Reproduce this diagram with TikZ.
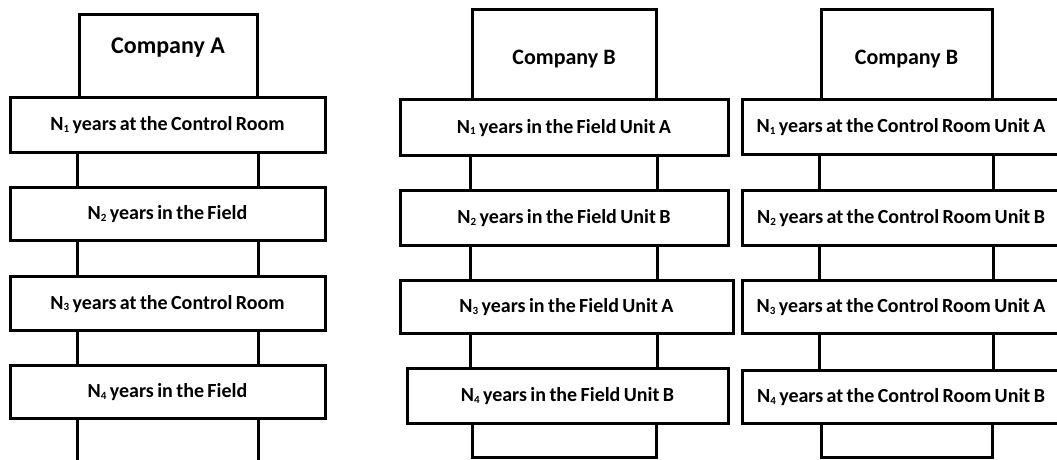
\documentclass[tikz,border=0pt]{standalone}
\usepackage{fontspec}
\setmainfont{Carlito}
\newcommand{\tightwords}{\spaceskip=3.4pt plus 1pt minus 1pt\relax}
\newcommand{\yrsub}[1]{\raisebox{-1.2pt}{\fontsize{11}{12}\selectfont #1}}

\begin{document}
\begin{tikzpicture}[
    x=1pt, y=-1pt,
    head/.style={draw, line width=3pt, inner sep=0pt, font=\bfseries\fontsize{22}{26}\selectfont},
    stage/.style={draw, line width=3pt, inner sep=0pt, text height=12.8pt, text depth=0pt, font=\bfseries\fontsize{20}{24}\selectfont\tightwords},
    tail/.style={draw, line width=3pt, inner sep=0pt},
    rail/.style={line width=3pt}
]
    \useasboundingbox (0,0) rectangle (1057,460);
    \clip (0,0) rectangle (1057,460);
    \fill[white] (0,0) rectangle (1057,460);

    \node[head, font=\bfseries\fontsize{24}{28}\selectfont, minimum width=178pt, text height=39pt, text depth=43pt] (hA) at (168,56) {Company A};
    \node[stage, minimum width=315pt, minimum height=55pt] (a1) at (167.5,124.5) {N\yrsub{1} years at the Control Room};
    \node[stage, minimum width=315pt, minimum height=53pt] (a2) at (167.5,213.5) {N\yrsub{2} years in the Field};
    \node[stage, minimum width=315pt, minimum height=54pt] (a3) at (167.5,303) {N\yrsub{3} years at the Control Room};
    \node[stage, minimum width=315pt, minimum height=53pt] (a4) at (167.5,391.5) {N\yrsub{4} years in the Field};
    \coordinate (aEnd) at (168,470);

    \node[head, minimum width=184pt, text height=54pt, text depth=35pt] (hB) at (564,54.5) {Company B};
    \node[stage, minimum width=328pt, minimum height=56pt] (b1) at (564,127) {N\yrsub{1} years in the Field Unit A};
    \node[stage, minimum width=328pt, minimum height=55pt] (b2) at (564,217.5) {N\yrsub{2} years in the Field Unit B};
    \node[stage, minimum width=333pt, minimum height=53pt] (b3) at (566.5,306.5) {N\yrsub{3} years in the Field Unit A};
    \node[stage, minimum width=321pt, minimum height=55pt] (b4) at (567.5,395.5) {N\yrsub{4} years in the Field Unit B};
    \node[tail, minimum width=184pt, minimum height=34pt] (bEnd) at (564,440) {};

    \node[head, minimum width=171pt, text height=55pt, text depth=34pt] (hC) at (906.5,54.5) {Company B};
    \node[stage, minimum width=318pt, minimum height=55pt] (c1) at (901,126.5) {N\yrsub{1} years at the Control Room Unit A};
    \node[stage, minimum width=318pt, minimum height=55pt] (c2) at (901,217.5) {N\yrsub{2} years at the Control Room Unit B};
    \node[stage, minimum width=318pt, minimum height=53pt] (c3) at (901,306.5) {N\yrsub{3} years at the Control Room Unit A};
    \node[stage, minimum width=318pt, minimum height=53pt] (c4) at (901,396.5) {N\yrsub{4} years at the Control Room Unit B};
    \node[tail, minimum width=171pt, minimum height=34pt] (cEnd) at (906.5,440) {};

    \draw[rail] (a1.south -| hA.west) -- (a2.north -| hA.west) (a1.south -| hA.east) -- (a2.north -| hA.east);
    \draw[rail] (a2.south -| hA.west) -- (a3.north -| hA.west) (a2.south -| hA.east) -- (a3.north -| hA.east);
    \draw[rail] (a3.south -| hA.west) -- (a4.north -| hA.west) (a3.south -| hA.east) -- (a4.north -| hA.east);
    \draw[rail] (a4.south -| hA.west) -- (aEnd -| hA.west) (a4.south -| hA.east) -- (aEnd -| hA.east);

    \draw[rail] (b1.south -| hB.west) -- (b2.north -| hB.west) (b1.south -| hB.east) -- (b2.north -| hB.east);
    \draw[rail] (b2.south -| hB.west) -- (b3.north -| hB.west) (b2.south -| hB.east) -- (b3.north -| hB.east);
    \draw[rail] (b3.south -| hB.west) -- (b4.north -| hB.west) (b3.south -| hB.east) -- (b4.north -| hB.east);

    \draw[rail] (c1.south -| hC.west) -- (c2.north -| hC.west) (c1.south -| hC.east) -- (c2.north -| hC.east);
    \draw[rail] (c2.south -| hC.west) -- (c3.north -| hC.west) (c2.south -| hC.east) -- (c3.north -| hC.east);
    \draw[rail] (c3.south -| hC.west) -- (c4.north -| hC.west) (c3.south -| hC.east) -- (c4.north -| hC.east);
\end{tikzpicture}
\end{document}
